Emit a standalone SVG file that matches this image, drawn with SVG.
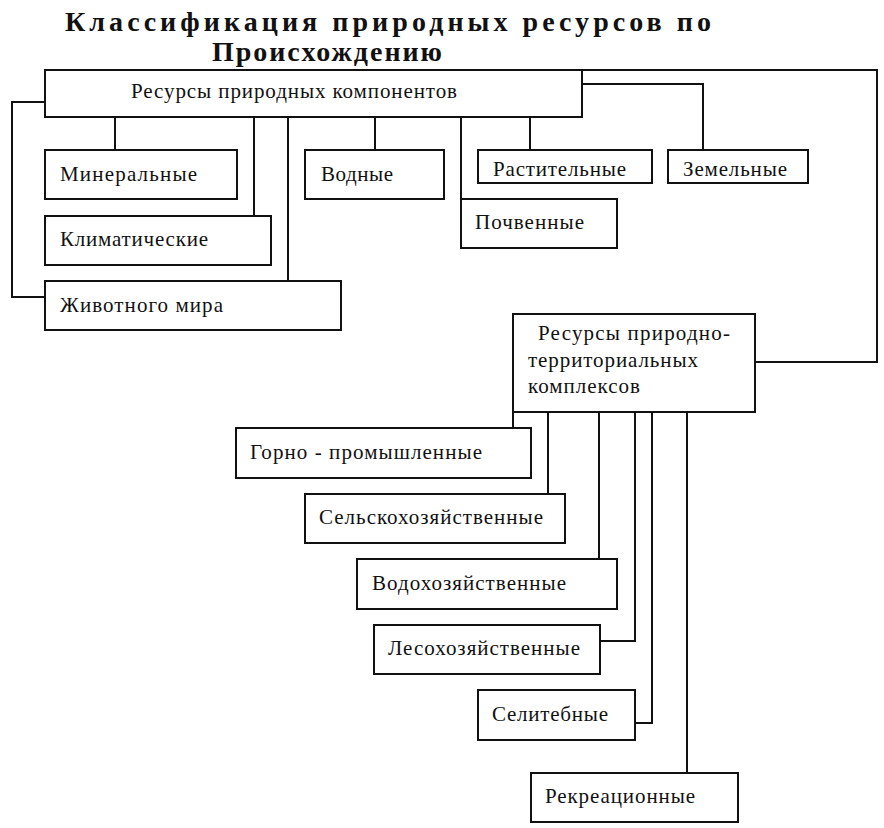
<svg xmlns="http://www.w3.org/2000/svg" width="884" height="828" viewBox="0 0 884 828">
<style>
  .box { fill: #ffffff; stroke: #111111; stroke-width: 2; }
  .lbl { font-family: "Liberation Serif", "DejaVu Serif", serif; font-size: 21px; fill: #111111; }
  .ttl { font-family: "Liberation Serif", "DejaVu Serif", serif; font-size: 28px; font-weight: bold; fill: #111111; }
  .conn { fill: none; stroke: #111111; stroke-width: 2; }
</style>
<rect x="0" y="0" width="884" height="828" fill="#ffffff"/>
<g id="title">
  <text class="ttl" x="65" y="31" textLength="646" lengthAdjust="spacing">Классификация природных ресурсов по</text>
  <text class="ttl" x="212" y="61" textLength="230" lengthAdjust="spacing">Происхождению</text>
</g>
<g id="connectors">
  <polyline class="conn" points="45,102 12,102 12,297 45,297"/>
  <line class="conn" x1="115" y1="117" x2="115" y2="150"/>
  <line class="conn" x1="254" y1="117" x2="254" y2="216"/>
  <line class="conn" x1="288" y1="117" x2="288" y2="281"/>
  <line class="conn" x1="375" y1="117" x2="375" y2="150"/>
  <line class="conn" x1="461" y1="117" x2="461" y2="199"/>
  <line class="conn" x1="530" y1="117" x2="530" y2="150"/>
  <polyline class="conn" points="582,84 703,84 703,150"/>
  <polyline class="conn" points="582,70 877,70 877,362 755,362"/>
  <line class="conn" x1="513" y1="412" x2="513" y2="428"/>
  <line class="conn" x1="548" y1="412" x2="548" y2="494"/>
  <line class="conn" x1="599" y1="412" x2="599" y2="559"/>
  <polyline class="conn" points="635,412 635,641 600,641"/>
  <polyline class="conn" points="652,412 652,723 635,723"/>
  <line class="conn" x1="687" y1="412" x2="687" y2="773"/>
</g>
<g id="node-prirodnye-komponenty">
  <rect class="box" x="45" y="70" width="537" height="47"/>
  <text class="lbl" x="131" y="98" textLength="326" lengthAdjust="spacing">Ресурсы природных компонентов</text>
</g>
<g id="node-mineralnye">
  <rect class="box" x="45" y="150" width="192" height="49"/>
  <text class="lbl" x="60" y="181" textLength="137" lengthAdjust="spacing">Минеральные</text>
</g>
<g id="node-vodnye">
  <rect class="box" x="305" y="150" width="139" height="49"/>
  <text class="lbl" x="321" y="181" textLength="72" lengthAdjust="spacing">Водные</text>
</g>
<g id="node-klimaticheskie">
  <rect class="box" x="45" y="216" width="226" height="49"/>
  <text class="lbl" x="60" y="246" textLength="148" lengthAdjust="spacing">Климатические</text>
</g>
<g id="node-zhivotnogo-mira">
  <rect class="box" x="45" y="281" width="296" height="49"/>
  <text class="lbl" x="60" y="312" textLength="163" lengthAdjust="spacing">Животного мира</text>
</g>
<g id="node-rastitelnye">
  <rect class="box" x="478" y="150" width="174" height="33"/>
  <text class="lbl" x="493" y="176" textLength="133" lengthAdjust="spacing">Растительные</text>
</g>
<g id="node-zemelnye">
  <rect class="box" x="668" y="150" width="140" height="33"/>
  <text class="lbl" x="683" y="176" textLength="104" lengthAdjust="spacing">Земельные</text>
</g>
<g id="node-pochvennye">
  <rect class="box" x="461" y="199" width="156" height="49"/>
  <text class="lbl" x="475" y="229" textLength="109" lengthAdjust="spacing">Почвенные</text>
</g>
<g id="node-ptk">
  <rect class="box" x="513" y="314" width="242" height="98"/>
  <text class="lbl" x="538" y="340" textLength="192" lengthAdjust="spacing">Ресурсы природно-</text>
  <text class="lbl" x="528" y="367" textLength="170" lengthAdjust="spacing">территориальных</text>
  <text class="lbl" x="528" y="393" textLength="112" lengthAdjust="spacing">комплексов</text>
</g>
<g id="node-gorno">
  <rect class="box" x="236" y="428" width="295" height="50"/>
  <text class="lbl" x="250" y="459" textLength="232" lengthAdjust="spacing">Горно - промышленные</text>
</g>
<g id="node-selskohoz">
  <rect class="box" x="305" y="494" width="260" height="49"/>
  <text class="lbl" x="319" y="524" textLength="224" lengthAdjust="spacing">Сельскохозяйственные</text>
</g>
<g id="node-vodohoz">
  <rect class="box" x="357" y="559" width="260" height="50"/>
  <text class="lbl" x="372" y="590" textLength="194" lengthAdjust="spacing">Водохозяйственные</text>
</g>
<g id="node-lesohoz">
  <rect class="box" x="374" y="625" width="226" height="49"/>
  <text class="lbl" x="388" y="655" textLength="192" lengthAdjust="spacing">Лесохозяйственные</text>
</g>
<g id="node-selitebnye">
  <rect class="box" x="478" y="690" width="157" height="50"/>
  <text class="lbl" x="492" y="721" textLength="116" lengthAdjust="spacing">Селитебные</text>
</g>
<g id="node-rekreacionnye">
  <rect class="box" x="531" y="773" width="207" height="49"/>
  <text class="lbl" x="545" y="803" textLength="150" lengthAdjust="spacing">Рекреационные</text>
</g>
</svg>
